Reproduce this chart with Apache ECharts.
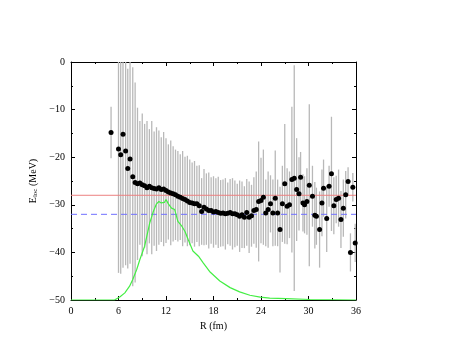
<!DOCTYPE html>
<html>
<head>
<meta charset="utf-8">
<script src="https://cdn.jsdelivr.net/npm/echarts@6/dist/echarts.min.js"></script>
<style>
  html, body { margin: 0; padding: 0; background: #fff; }
  #chart { width: 469px; height: 362px; }
</style>
</head>
<body>
<div id="chart"></div>
<script>
// local energy vs R, with error bars
var rVals = [5.06, 6.0, 6.28, 6.57, 6.9, 7.17, 7.46, 7.8, 8.1, 8.4, 8.7, 9.0, 9.3, 9.6, 9.9, 10.2, 10.5, 10.8, 11.1, 11.4,
  11.7, 12.0, 12.3, 12.6, 12.9, 13.2, 13.5, 13.8, 14.1, 14.4, 14.7, 15.0, 15.3, 15.6, 15.9, 16.2, 16.5, 16.8, 17.1, 17.4,
  17.7, 18.0, 18.3, 18.6, 18.9, 19.2, 19.5, 19.8, 20.1, 20.4, 20.7, 21.0, 21.3, 21.6, 21.9, 22.2, 22.5, 22.8, 23.1, 23.4,
  23.7, 24.0, 24.3, 24.6, 24.9, 25.2, 25.5, 25.8, 26.1, 26.4, 26.7, 27.0, 27.3, 27.6, 27.9, 28.2, 28.5, 28.8, 29.0, 29.3,
  29.5, 29.8, 30.1, 30.5, 30.8, 31.0, 31.4, 31.7, 31.9, 32.3, 32.6, 32.9, 33.2, 33.5, 33.8, 34.1, 34.4, 34.7, 35.0, 35.3,
  35.6, 35.9];
var eVals = [-14.8, -18.3, -19.5, -15.2, -18.7, -22.4, -20.4, -24.1, -25.3, -25.6, -25.4, -25.8, -26.0, -26.4, -26.1, -26.4, -26.6, -26.7, -26.4, -26.8,
  -26.7, -27.0, -27.3, -27.5, -27.7, -27.9, -28.2, -28.4, -28.7, -28.9, -29.2, -29.5, -29.6, -29.8, -29.8, -30.2, -31.4, -30.5, -30.9, -31.2,
  -31.2, -31.5, -31.4, -31.6, -31.8, -31.7, -31.9, -31.8, -31.6, -31.9, -31.9, -32.1, -32.4, -32.1, -32.6, -31.6, -32.6, -32.3, -31.2, -31.0,
  -29.3, -29.1, -28.4, -31.7, -31.0, -29.8, -31.7, -28.6, -31.7, -35.2, -29.8, -25.6, -30.3, -30.0, -24.7, -24.4, -26.8, -27.7, -24.2, -29.6,
  -30.0, -29.3, -25.9, -28.2, -32.2, -32.4, -35.2, -29.6, -26.5, -32.9, -26.1, -23.5, -30.2, -28.9, -28.6, -33.1, -30.7, -27.9, -25.1, -40.0,
  -26.3, -38.0];
var eErr = [5.4, 26, 25, 28, 24, 21, 22, 23, 21, 16, 13, 15, 13, 14, 12, 14, 12, 13, 12, 11,
  12, 11, 10, 11, 10, 9.5, 9.5, 9, 10, 9, 9.5, 9, 8.5, 9, 8, 8.5, 7, 8, 7.5, 8,
  7, 7.5, 7, 7.5, 7, 7, 7.5, 6.5, 7, 7.5, 7, 6.5, 7.5, 7, 6.5, 7, 7.5, 6.5, 7, 8,
  12.6, 9, 10, 7, 8, 6, 7, 10, 7, 9, 8, 12.6, 8, 7, 15.3, 23.7, 10.8, 7.7, 5.3, 6,
  6, 7, 17, 6.4, 7, 6, 8, 7, 6, 7, 4.3, 12, 6, 5, 6, 6, 6, 5, 3, 4,
  3, 4];

// density profile (green), drawn on the same scale
var densR = [0, 5.5, 6.2, 6.8, 7.4, 7.8, 8.3, 8.7, 9.3, 9.95, 10.4, 10.8, 11.1, 11.4, 11.8, 12.0, 12.3, 12.7, 13.1, 13.5,
  14.0, 14.4, 14.8, 15.4, 16.1, 16.7, 17.5, 18.8, 20.1, 21.3, 22.6, 23.9, 25.1, 27.2, 30.2, 36];
var densE = [-50, -50, -49.3, -48.5, -47.1, -45.7, -43.6, -41.5, -38.7, -33.8, -31.4, -29.8, -29.3, -29.6, -29.5, -28.9, -29.8, -30.7, -31.0, -33.5,
  -34.5, -35.6, -37.3, -39.7, -40.8, -42.2, -44.0, -46.0, -47.4, -48.3, -49.0, -49.4, -49.6, -49.7, -49.9, -50];

var refLevel = -28;
var dashLevel = -32;
var xTicks = [0, 36, 6];
var yTicks = [-50, 0, 10];

var font = "'Liberation Serif', 'DejaVu Serif', serif";

function axisBase(pos, showLabel, range) {
  return {
    type: "value",
    position: pos,
    min: range[0],
    max: range[1],
    interval: range[2],
    axisLine: { onZero: false, lineStyle: { color: "#000", width: 1 } },
    axisTick: { inside: true, length: 4, lineStyle: { color: "#000" } },
    minorTick: { show: true, splitNumber: 2, length: 2, lineStyle: { color: "#000" } },
    splitLine: { show: false },
    axisLabel: {
      show: showLabel,
      color: "#000",
      fontFamily: font,
      fontSize: 10,
      margin: 6,
      formatter: function (v) { return String(v).replace("-", "\u2212"); }
    }
  };
}

var chart = echarts.init(document.getElementById("chart"));

var xBottom = axisBase("bottom", true, xTicks);
xBottom.name = "R (fm)";
xBottom.nameLocation = "middle";
xBottom.nameGap = 19;
xBottom.nameTextStyle = { color: "#000", fontFamily: font, fontSize: 10 };

var yLeft = axisBase("left", true, yTicks);
yLeft.name = "{e|E}{s|loc}{e| (MeV)}";
yLeft.nameLocation = "middle";
yLeft.nameGap = 30;
yLeft.nameRotate = 90;
yLeft.nameTextStyle = {
  rich: {
    e: { color: "#000", fontFamily: font, fontSize: 10 },
    s: { color: "#000", fontFamily: font, fontSize: 7, verticalAlign: "bottom", padding: [4, 0, 0, 0] }
  }
};

var barData = rVals.map(function (r, i) {
  return [r, eVals[i] - eErr[i], eVals[i] + eErr[i]];
});
var pointData = rVals.map(function (r, i) { return [r, eVals[i]]; });
var densData = densR.map(function (r, i) { return [r, densE[i]]; });

var option = {
  animation: false,
  backgroundColor: "#fff",
  grid: { left: 71, right: 113, top: 62, bottom: 62 },
  xAxis: [xBottom, axisBase("top", false, xTicks)],
  yAxis: [yLeft, axisBase("right", false, yTicks)],
  series: [
    {
      type: "custom",
      z: 1,
      encode: { x: 0, y: [1, 2] },
      renderItem: function (params, api) {
        var x = api.value(0);
        var lo = Math.max(api.value(1), yTicks[0]);
        var hi = Math.min(api.value(2), yTicks[1]);
        var p1 = api.coord([x, lo]);
        var p2 = api.coord([x, hi]);
        return {
          type: "line",
          shape: { x1: p1[0], y1: p1[1], x2: p2[0], y2: p2[1] },
          style: { stroke: "#b8b8b8", lineWidth: 1.3 }
        };
      },
      data: barData
    },
    {
      type: "line",
      z: 2,
      showSymbol: false,
      lineStyle: { color: "#ec8080", width: 1 },
      data: [[xTicks[0], refLevel], [xTicks[1], refLevel]]
    },
    {
      type: "line",
      z: 2,
      showSymbol: false,
      lineStyle: { color: "#7070ff", width: 1, type: [6, 4] },
      data: [[xTicks[0], dashLevel], [xTicks[1], dashLevel]]
    },
    {
      type: "line",
      z: 3,
      showSymbol: false,
      lineStyle: { color: "#44ee44", width: 1.2 },
      data: densData
    },
    {
      type: "scatter",
      z: 4,
      symbolSize: 5,
      itemStyle: { color: "#000", opacity: 1 },
      data: pointData
    }
  ]
};
chart.setOption(option);
</script>
</body>
</html>
